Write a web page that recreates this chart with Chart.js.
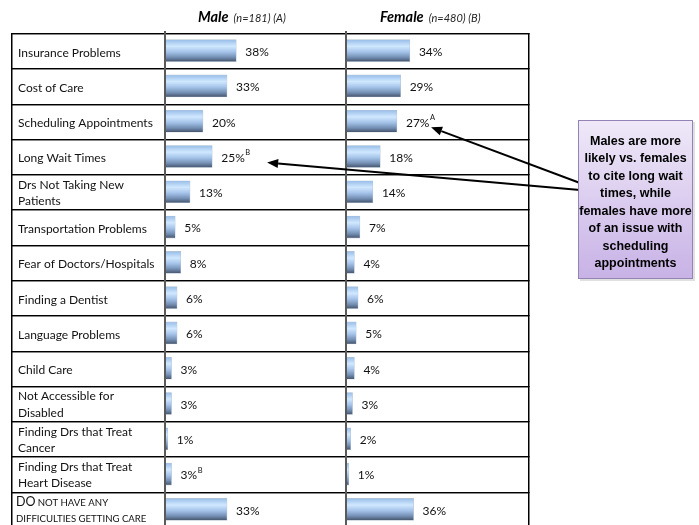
<!DOCTYPE html>
<html><head><meta charset="utf-8">
<script src="https://cdn.jsdelivr.net/npm/chart.js@4/dist/chart.umd.min.js"></script>
<style>
html,body{margin:0;padding:0;background:#fff;overflow:hidden;}
#wrap{width:699px;height:525px;overflow:hidden;position:relative;}
canvas{display:block;}
</style>
</head><body>
<div id="wrap"><canvas id="c" width="699" height="528" style="width:699px;height:528px"></canvas></div>
<script>
// ---- data ----
const categories = [
  ['Insurance Problems'],
  ['Cost of Care'],
  ['Scheduling Appointments'],
  ['Long Wait Times'],
  ['Drs Not Taking New', 'Patients'],
  ['Transportation Problems'],
  ['Fear of Doctors/Hospitals'],
  ['Finding a Dentist'],
  ['Language Problems'],
  ['Child Care'],
  ['Not Accessible for', 'Disabled'],
  ['Finding Drs that Treat', 'Cancer'],
  ['Finding Drs that Treat', 'Heart Disease'],
  ['DO NOT HAVE ANY', 'DIFFICULTIES GETTING CARE']
];
const maleValues   = [38, 33, 20, 25, 13, 5, 8, 6, 6, 3, 3, 1, 3, 33];
const femaleValues = [34, 29, 27, 18, 14, 7, 4, 6, 5, 4, 3, 2, 1, 36];
const maleSig   = ['', '', '', 'B', '', '', '', '', '', '', '', '', 'B', ''];
const femaleSig = ['', '', 'A', '', '', '', '', '', '', '', '', '', '', ''];
const groupTitles = ['Male', 'Female'];
const groupNotes  = ['(n=181) (A)', '(n=480) (B)'];
const calloutLines = ['Males are more', 'likely vs. females', 'to cite long wait', 'times, while',
  'females have more', 'of an issue with', 'scheduling', 'appointments'];

const FONT = 'Lato, "Open Sans", sans-serif';

function barGradient(context) {
  const chart = context.chart;
  const { ctx, chartArea, scales } = chart;
  if (!chartArea || !scales.y) return '#8fb3de';
  const yc = scales.y.getPixelForValue(context.dataIndex);
  const h = 11;
  const g = ctx.createLinearGradient(0, yc - h, 0, yc + h);
  g.addColorStop(0, '#98bde8');
  g.addColorStop(0.3, '#d0e8ff');
  g.addColorStop(0.55, '#a6c4ea');
  g.addColorStop(0.8, '#7590b5');
  g.addColorStop(1, '#44546b');
  return g;
}

const labelPos = {};

const tablePlugin = {
  id: 'tablePlugin',
  beforeDatasetsDraw(chart) {
    const { ctx, chartArea: a, scales } = chart;
    const y = scales.y;
    const n = categories.length;
    const left = 11, right = a.right;
    ctx.save();
    for (let i = 0; i <= n; i++) {
      const yy = Math.round(y.getPixelForValue(i - 0.5));
      ctx.fillStyle = '#c4c4c4';
      ctx.fillRect(left, yy + 1, right - left, 1);
      ctx.fillStyle = '#000';
      ctx.fillRect(left, yy, right - left + 1.5, 1.3);
    }
    ctx.fillStyle = '#000';
    ctx.fillRect(left, a.top, 1.5, a.bottom - a.top);
    ctx.fillRect(right, a.top, 1.5, a.bottom - a.top);
    const x0 = scales.x.getPixelForValue(0);
    const x20 = scales.x2.getPixelForValue(0);
    ctx.fillStyle = '#5a5a5a';
    ctx.fillRect(x0 - 2, a.top - 2, 2, a.bottom - a.top + 2);
    ctx.fillRect(x20 - 2, a.top - 2, 2, a.bottom - a.top + 2);

    // category labels
    ctx.fillStyle = '#111';
    ctx.textBaseline = 'middle';
    ctx.textAlign = 'left';
    categories.forEach((lines, i) => {
      const yc = y.getPixelForValue(i);
      const isCaps = lines[0] === lines[0].toUpperCase();
      if (isCaps) {
        const l1 = lines[0].split(' ');
        ctx.font = '12.5px ' + FONT;
        ctx.fillText(l1[0], 16, yc - 7);
        const w = ctx.measureText(l1[0] + ' ').width;
        ctx.font = '9.6px ' + FONT;
        ctx.fillText(l1.slice(1).join(' '), 16 + w - 1, yc - 6.5);
        ctx.fillText(lines[1], 16, yc + 9.5);
      } else {
        ctx.font = '12px ' + FONT;
        if (lines.length === 1) {
          ctx.fillText(lines[0], 18, yc + 2);
        } else {
          ctx.fillText(lines[0], 18, yc - 7);
          ctx.fillText(lines[1], 18, yc + 9.5);
        }
      }
    });
    ctx.restore();
  },
  afterDatasetsDraw(chart) {
    const { ctx } = chart;
    const sigs = [maleSig, femaleSig];
    ctx.save();
    ctx.textBaseline = 'middle';
    ctx.textAlign = 'left';
    ctx.fillStyle = '#111';
    chart.data.datasets.forEach((ds, di) => {
      const meta = chart.getDatasetMeta(di);
      meta.data.forEach((el, i) => {
        const txt = ds.data[i] + '%';
        const x = el.x + 9;
        const yy = el.y + 1.5;
        ctx.font = '12px ' + FONT;
        ctx.fillText(txt, x, yy);
        let end = x + ctx.measureText(txt).width;
        const s = sigs[di][i];
        if (s) {
          ctx.font = '7.5px ' + FONT;
          ctx.fillText(s, end + 0.5, yy - 5);
          end += 0.5 + ctx.measureText(s).width;
        }
        labelPos[di + '_' + i] = { end, y: el.y };
      });
    });

    // headers
    const starts = [198, 380];
    groupTitles.forEach((t, k) => {
      ctx.font = 'italic bold 14.5px ' + FONT;
      ctx.fillStyle = '#000';
      ctx.fillText(t, starts[k], 17);
      const w = ctx.measureText(t).width;
      ctx.font = 'italic 11px ' + FONT;
      ctx.fillStyle = '#222';
      ctx.fillText(groupNotes[k], starts[k] + w + 5, 18);
    });

    // arrows
    const arrow = (x1, y1, x2, y2) => {
      ctx.strokeStyle = '#000';
      ctx.fillStyle = '#000';
      ctx.lineWidth = 2;
      const ang = Math.atan2(y2 - y1, x2 - x1);
      const L = 11, Wd = 4.5;
      const bx = x2 - L * Math.cos(ang), by = y2 - L * Math.sin(ang);
      ctx.beginPath();
      ctx.moveTo(x1, y1);
      ctx.lineTo(bx, by);
      ctx.stroke();
      ctx.beginPath();
      ctx.moveTo(x2, y2);
      ctx.lineTo(bx + Wd * Math.sin(ang), by - Wd * Math.cos(ang));
      ctx.lineTo(bx - Wd * Math.sin(ang), by + Wd * Math.cos(ang));
      ctx.closePath();
      ctx.fill();
    };
    const pA = labelPos['1_2'];
    const pB = labelPos['0_3'];
    arrow(580, 183, pA.end - 4, pA.y + 6);
    arrow(580, 190, pB.end + 17, pB.y + 6);

    // callout box
    const bx = 578, by = 120, bw = 115, bh = 159;
    const g = ctx.createLinearGradient(0, by, 0, by + bh);
    g.addColorStop(0, '#efe9f8');
    g.addColorStop(1, '#c8b2e6');
    ctx.fillStyle = 'rgba(0,0,0,0.12)';
    ctx.fillRect(bx + 2, by + 2, bw, bh);
    ctx.fillStyle = g;
    ctx.fillRect(bx, by, bw, bh);
    ctx.strokeStyle = '#9483b5';
    ctx.lineWidth = 1;
    ctx.strokeRect(bx + 0.5, by + 0.5, bw - 1, bh - 1);
    ctx.fillStyle = '#000';
    ctx.font = 'bold 12.5px "Liberation Sans", Arial, sans-serif';
    ctx.textAlign = 'center';
    calloutLines.forEach((l, k) => {
      ctx.fillText(l, bx + bw / 2, 141.5 + k * 17.5);
    });
    ctx.restore();
  }
};

const chart = new Chart(document.getElementById('c'), {
  type: 'bar',
  data: {
    labels: categories,
    datasets: [
      { label: 'Male', data: maleValues, xAxisID: 'x', backgroundColor: barGradient,
        borderColor: 'rgba(150,170,195,0.7)', borderWidth: 0.6, borderSkipped: 'left' },
      { label: 'Female', data: femaleValues, xAxisID: 'x2', backgroundColor: barGradient,
        borderColor: 'rgba(150,170,195,0.7)', borderWidth: 0.6, borderSkipped: 'left' }
    ]
  },
  options: {
    indexAxis: 'y',
    responsive: false,
    animation: false,
    devicePixelRatio: 1,
    datasets: { bar: { grouped: false, barThickness: 22 } },
    layout: { padding: { left: 166, right: 171, top: 33, bottom: 1 } },
    scales: {
      y: { display: false, type: 'category' },
      x: { display: false, type: 'linear', min: 0, max: 195.68 },
      x2: { display: false, type: 'linear', min: -97.84, max: 97.84 }
    },
    plugins: { legend: { display: false }, tooltip: { enabled: false }, title: { display: false } }
  },
  plugins: [tablePlugin]
});
</script>
</body></html>
